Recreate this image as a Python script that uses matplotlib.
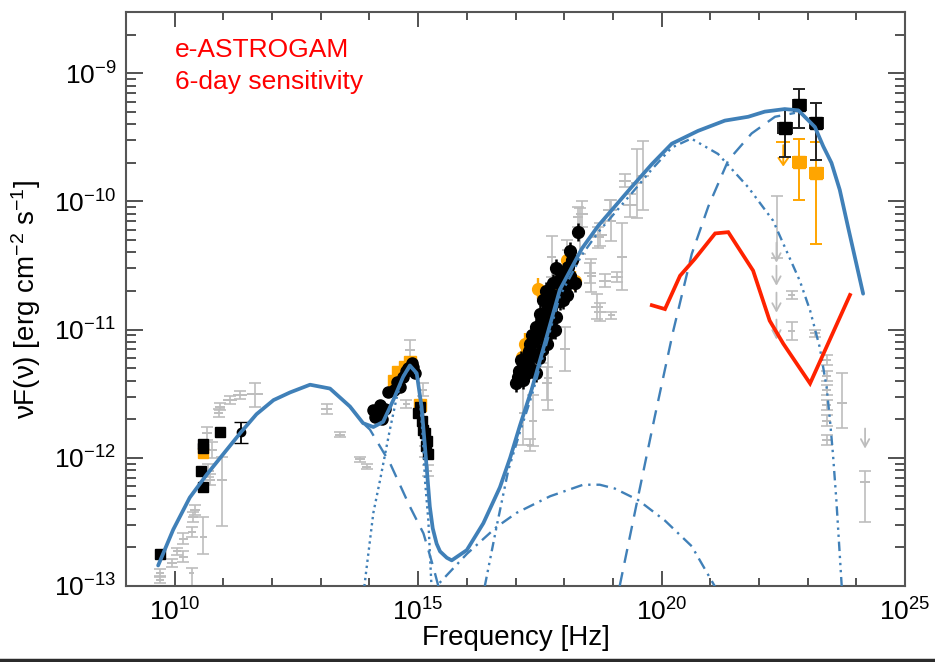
import numpy as np
import matplotlib
matplotlib.use("Agg")
import matplotlib.pyplot as plt
from matplotlib.ticker import FixedLocator, FixedFormatter, NullFormatter
from matplotlib.lines import Line2D

plt.rcParams['font.family'] = ['Liberation Sans', 'DejaVu Sans']
plt.rcParams['mathtext.default'] = 'regular'

# All values are log10(nu / Hz) and log10(nuFnu / erg cm^-2 s^-1)

# ---------------- model components ----------------
total_lnu = [9.66, 9.97, 10.31, 10.66, 11.00, 11.34, 11.68, 12.03, 12.37, 12.78, 13.19, 13.60, 13.87,
             14.08, 14.28, 14.49, 14.69, 14.83, 14.97, 15.07, 15.14, 15.24, 15.30, 15.38, 15.45,
             15.59, 15.69, 16.00, 16.34, 16.68, 16.89, 17.09, 17.33, 17.60, 17.91, 18.36, 18.70,
             19.04, 19.38, 19.80, 20.21, 20.75, 21.30, 21.78, 22.12, 22.53, 22.81, 23.15,
             23.32, 23.49, 23.66, 23.83, 24.14]
total_lf = [-12.84, -12.56, -12.31, -12.13, -11.97, -11.81, -11.66, -11.55, -11.49, -11.43, -11.46, -11.60, -11.73,
            -11.76, -11.72, -11.55, -11.37, -11.28, -11.34, -11.60, -11.91, -12.38, -12.55, -12.67, -12.73,
            -12.78, -12.80, -12.72, -12.51, -12.23, -12.00, -11.75, -11.47, -11.11, -10.69, -10.37, -10.19,
            -10.04, -9.89, -9.71, -9.55, -9.45, -9.37, -9.34, -9.30, -9.28, -9.29, -9.42,
            -9.57, -9.70, -9.91, -10.20, -10.72]

sync_lnu = [13.60, 13.87, 14.01, 14.42, 14.83, 15.11, 15.31, 15.45]
sync_lf = [-11.60, -11.73, -11.78, -12.04, -12.38, -12.59, -12.85, -13.05]

disk_lnu = [13.88, 14.08, 14.22, 14.42, 14.56, 14.69, 14.85, 15.00, 15.04, 15.10, 15.14, 15.21, 15.28]
disk_lf = [-13.05, -12.43, -12.17, -11.78, -11.53, -11.36, -11.29, -11.37, -11.56, -11.86, -12.17, -12.49, -13.05]

ssc_lnu = [15.30, 15.38, 16.00, 16.61, 17.02, 17.71, 18.39, 18.73, 19.04, 19.52, 20.07, 20.62, 21.09, 21.15]
ssc_lf = [-13.10, -13.00, -12.75, -12.54, -12.43, -12.30, -12.21, -12.21, -12.24, -12.33, -12.49, -12.69, -13.00, -13.05]

ecblr_lnu = [16.37, 16.61, 16.85, 17.09, 17.33, 17.60, 17.91, 18.36, 18.70, 19.04, 19.38, 19.80,
             20.21, 20.61, 21.16, 21.78, 22.29, 22.50, 22.84, 23.05, 23.25, 23.39, 23.46, 23.52,
             23.59, 23.70, 23.72]
ecblr_lf = [-13.00, -12.54, -12.10, -11.80, -11.52, -11.16, -10.74, -10.42, -10.24, -10.09, -9.94, -9.75,
            -9.58, -9.51, -9.63, -9.89, -10.15, -10.33, -10.62, -10.85, -11.14, -11.45, -11.71, -11.97,
            -12.33, -13.00, -13.10]

ecdt_lnu = [19.14, 19.52, 19.86, 20.24, 20.62, 20.96, 21.37, 21.85, 22.33, 22.74]
ecdt_lf = [-13.00, -12.30, -11.68, -11.01, -10.41, -10.04, -9.68, -9.47, -9.34, -9.31]

# ---------------- e-ASTROGAM 6-day sensitivity ----------------
sens_lnu = [19.80, 20.07, 20.38, 20.68, 21.10, 21.37, 21.88, 22.22, 22.50, 23.05, 23.87]
sens_lf = [-10.81, -10.84, -10.58, -10.45, -10.25, -10.24, -10.54, -10.93, -11.11, -11.42, -10.73]

# ---------------- archival data (grey) ----------------
arch_lnu = [11.65, 11.34, 11.14, 10.93, 10.90, 10.66, 10.76, 10.97, 10.69, 10.73, 10.42, 10.38,
            10.59, 10.35, 10.18, 10.18, 10.04, 9.94, 10.35, 9.70, 9.70,
            13.12, 13.39, 13.81, 13.94, 14.83, 15.10, 14.76, 15.20, 15.15,
            18.29, 17.74, 18.05, 18.53, 18.67, 18.02, 17.64, 17.36, 17.16, 17.67, 17.30, 17.55,
            18.36, 18.73, 18.94, 19.18, 19.35, 19.62, 19.49, 19.25, 18.97, 18.70, 18.56, 18.32,
            18.84, 19.08, 18.73, 18.97,
            22.37, 22.67, 22.67, 23.15, 23.39, 23.39, 23.39, 23.39, 23.39, 23.39, 23.70, 24.18]
arch_lf = [-11.50, -11.51, -11.55, -11.60, -11.65, -11.81, -11.94, -12.17, -12.10, -12.17, -12.41, -12.46,
           -12.62, -12.58, -12.63, -12.77, -12.73, -12.82, -12.90, -12.90, -12.95,
           -11.62, -11.82, -12.01, -12.07, -11.16, -11.47, -11.58, -12.10, -11.95,
           -10.12, -10.43, -10.38, -10.56, -10.82, -11.15, -11.42, -11.71, -11.65, -11.38, -11.90, -11.20,
           -10.10, -10.26, -10.07, -10.43, -10.03, -9.80, -9.86, -9.84, -10.15, -10.28, -10.58, -10.23,
           -10.62, -10.59, -10.86, -10.89,
           -10.19, -10.73, -11.01, -11.03, -11.24, -11.36, -11.47, -11.59, -11.71, -11.86, -11.57, -12.19]
arch_dlo = [0.10, 0.03, 0.03, 0.03, 0.03, 0.05, 0.06, 0.36, 0.05, 0.04, 0.04, 0.04,
            0.13, 0.04, 0.04, 0.04, 0.03, 0.03, 0.10, 0.03, 0.03,
            0.04, 0.02, 0.02, 0.02, 0.08, 0.05, 0.03, 0.04, 0.04,
            0.08, 0.16, 0.08, 0.08, 0.10, 0.17, 0.13, 0.20, 0.25, 0.25, 0.05, 0.06,
            0.10, 0.09, 0.08, 0.26, 0.09, 0.27, 0.27, 0.05, 0.16, 0.08, 0.13, 0.18,
            0.05, 0.04, 0.07, 0.03,
            0.25, 0.03, 0.07, 0.03, 0.04, 0.04, 0.04, 0.04, 0.04, 0.04, 0.20, 0.31]
arch_dhi = [0.08, 0.03, 0.03, 0.03, 0.03, 0.05, 0.06, 0.18, 0.05, 0.04, 0.04, 0.04,
            0.16, 0.04, 0.04, 0.04, 0.03, 0.03, 0.04, 0.03, 0.03,
            0.04, 0.02, 0.02, 0.02, 0.08, 0.05, 0.03, 0.04, 0.04,
            0.08, 0.16, 0.08, 0.08, 0.10, 0.17, 0.13, 0.20, 0.25, 0.25, 0.05, 0.06,
            0.10, 0.09, 0.08, 0.26, 0.09, 0.27, 0.27, 0.05, 0.16, 0.08, 0.13, 0.18,
            0.05, 0.04, 0.07, 0.03,
            0.23, 0.03, 0.07, 0.03, 0.04, 0.04, 0.04, 0.04, 0.04, 0.04, 0.23, 0.09]
arch_dnu = [0.16, 0.14, 0.14, 0.10, 0.10, 0.10, 0.10, 0.10, 0.12, 0.10, 0.10, 0.10,
            0.08, 0.08, 0.10, 0.10, 0.08, 0.10, 0.05, 0.08, 0.08,
            0.12, 0.10, 0.10, 0.10, 0.10, 0.08, 0.08, 0.08, 0.06,
            0.10, 0.10, 0.10, 0.12, 0.12, 0.10, 0.10, 0.08, 0.08, 0.08, 0.08, 0.08,
            0.12, 0.15, 0.15, 0.10, 0.15, 0.12, 0.12, 0.12, 0.10, 0.12, 0.10, 0.10,
            0.12, 0.12, 0.12, 0.08,
            0.00, 0.08, 0.08, 0.10, 0.10, 0.10, 0.10, 0.10, 0.10, 0.10, 0.10, 0.10]
arch_ul_lnu = [22.36, 22.36, 22.36, 22.36, 24.18]
arch_ul_lf = [-10.30, -10.48, -10.69, -10.90, -11.75]

# ---------------- contemporaneous data ----------------
radio_lnu = [9.70, 10.59, 10.59, 10.55, 10.59, 10.93]
radio_lf = [-12.75, -11.89, -11.92, -12.10, -12.23, -11.80]
radio_o_lnu = [10.59]
radio_o_lf = [-11.96]
mm_lnu = [11.36]
mm_lf = [-11.80]
mm_dlo = [0.086]
mm_dhi = [0.078]

opt_lnu = [14.08, 14.22, 14.18, 14.32, 14.39, 14.56, 14.63, 14.69, 14.76, 14.87, 14.93,
           14.12, 14.25, 14.50, 14.80, 14.90]
opt_lf = [-11.63, -11.59, -11.65, -11.62, -11.49, -11.41, -11.45, -11.37, -11.32, -11.26, -11.34,
          -11.68, -11.70, -11.47, -11.30, -11.29]
uv_lnu = [15.00, 15.07, 15.14, 15.17, 15.21, 15.04, 15.10, 15.19]
uv_lf = [-11.65, -11.71, -11.81, -11.91, -11.97, -11.60, -11.78, -11.87]
opt_o_lnu = [14.59, 14.83, 15.04, 14.73, 14.50]
opt_o_lf = [-11.33, -11.25, -11.59, -11.29, -11.40]

xray_lnu = [17.06, 17.16, 17.23, 17.30, 17.43, 17.50, 17.57, 17.64, 17.71, 17.77, 17.84, 17.95,
            18.02, 18.08, 18.12, 18.22, 18.29, 17.36, 17.43, 17.23, 17.71, 17.84, 17.98, 17.64,
            17.16, 17.25, 17.34, 17.50, 17.60, 17.75, 17.87, 17.95, 18.12, 18.06, 17.81, 17.54, 17.11,
            17.02, 17.08, 17.19, 17.28, 17.38, 17.46, 17.52, 17.58, 17.66, 17.69, 17.78, 17.88,
            17.92, 18.00, 18.16, 17.48, 17.30, 17.62]
xray_lf = [-11.37, -11.29, -11.21, -11.11, -10.98, -10.88, -10.77, -10.85, -10.72, -10.64, -10.52, -10.59,
           -10.67, -10.51, -10.39, -10.64, -10.24, -11.19, -11.34, -11.34, -11.03, -10.90, -10.77, -11.11,
           -11.39, -11.28, -11.04, -11.00, -10.93, -10.81, -10.73, -10.65, -10.58, -10.73, -11.00, -11.16, -11.24,
           -11.42, -11.32, -11.25, -11.17, -11.10, -11.05, -10.95, -10.90, -10.80, -10.93, -10.77, -10.62,
           -10.78, -10.55, -10.46, -11.22, -11.30, -10.70]
xray_o_lnu = [17.47, 17.19, 17.74, 18.22, 18.05, 17.13, 17.09, 17.30]
xray_o_lf = [-10.68, -11.11, -10.68, -10.62, -10.46, -11.21, -11.33, -11.08]

lat_lnu = [22.53, 22.83, 23.18]
lat_lf = [-9.43, -9.25, -9.39]
lat_dlo = [0.22, 0.18, 0.29]
lat_dhi = [0.14, 0.13, 0.16]
lat_o_lnu = [22.83, 23.18]
lat_o_lf = [-9.69, -9.78]
lat_o_dlo = [0.30, 0.55]
lat_o_dhi = [0.18, 0.24]
lat_o_ul_lnu = [22.50]
lat_o_ul_lf = [-9.54]
lat_dnu = 0.14

# ---------------- drawing ----------------
BLUE = '#4080B8'
GREY = '#BDBDBD'
ORANGE = '#FFA500'
RED = '#FF2200'


def p10(a):
    return 10.0 ** np.asarray(a, dtype=float)


def asym(lv, lo, hi):
    lv = np.asarray(lv, dtype=float)
    lo = np.broadcast_to(np.asarray(lo, dtype=float), lv.shape)
    hi = np.broadcast_to(np.asarray(hi, dtype=float), lv.shape)
    return np.vstack([10 ** lv - 10 ** (lv - lo), 10 ** (lv + hi) - 10 ** lv])


fig = plt.figure(figsize=(9.35, 6.62), dpi=100)
ax = fig.add_axes([126 / 935, 1 - 586 / 662, 779 / 935, 574 / 662])
ax.set_xscale('log')
ax.set_yscale('log')

# archival points: capped flux errors, uncapped frequency bins
ax.errorbar(p10(arch_lnu), p10(arch_lf), yerr=asym(arch_lf, arch_dlo, arch_dhi),
            fmt='none', ecolor=GREY, elinewidth=1.2, capsize=4, capthick=1.2, zorder=1)
ax.errorbar(p10(arch_lnu), p10(arch_lf), xerr=asym(arch_lnu, arch_dnu, arch_dnu),
            fmt='none', ecolor=GREY, elinewidth=1.4, capsize=0, zorder=1)
for xl, yl in zip(arch_ul_lnu, arch_ul_lf):
    ax.annotate('', xy=(10 ** xl, 10 ** (yl - 0.2)), xytext=(10 ** xl, 10 ** yl),
                arrowprops=dict(arrowstyle='->,head_length=0.55,head_width=0.3',
                                color=GREY, lw=1.3), zorder=1)

# radio / mm
ax.plot(p10(radio_o_lnu), p10(radio_o_lf), 's', color=ORANGE, ms=7, zorder=2)
ax.plot(p10(radio_lnu), p10(radio_lf), 's', color='black', ms=6.5, zorder=3)
ax.errorbar(p10(mm_lnu), p10(mm_lf), yerr=asym(mm_lf, mm_dlo, mm_dhi), fmt='o',
            color='black', ms=6, capsize=5, elinewidth=1.3, zorder=3)

# optical / UV
ax.plot(p10(opt_o_lnu), p10(opt_o_lf), 's', color=ORANGE, ms=8, zorder=2)
ax.plot(p10(opt_lnu), p10(opt_lf), 'o', color='black', ms=8, zorder=3)
ax.plot(p10(uv_lnu), p10(uv_lf), 's', color='black', ms=7, zorder=3)

# X-rays
ax.errorbar(p10(xray_o_lnu), p10(xray_o_lf), yerr=asym(xray_o_lf, 0.08, 0.08), fmt='o',
            color=ORANGE, ms=8.5, elinewidth=1.7, capsize=0, zorder=2)
ax.errorbar(p10(xray_lnu), p10(xray_lf), yerr=asym(xray_lf, 0.07, 0.07), fmt='o',
            color='black', ms=8.5, elinewidth=1.8, capsize=0, zorder=3)

# gamma rays
ax.errorbar(p10(lat_o_lnu), p10(lat_o_lf), xerr=asym(lat_o_lnu, lat_dnu, lat_dnu),
            yerr=asym(lat_o_lf, lat_o_dlo, lat_o_dhi), fmt='s', color=ORANGE, ms=8,
            elinewidth=1.4, capsize=4.5, capthick=1.4, zorder=2)
ax.errorbar(p10(lat_o_ul_lnu), p10(lat_o_ul_lf), xerr=asym(lat_o_ul_lnu, lat_dnu, lat_dnu),
            fmt='none', ecolor=ORANGE, elinewidth=1.4, zorder=2)
for xl, yl in zip(lat_o_ul_lnu, lat_o_ul_lf):
    ax.annotate('', xy=(10 ** xl, 10 ** (yl - 0.21)), xytext=(10 ** xl, 10 ** yl),
                arrowprops=dict(arrowstyle='->,head_length=0.5,head_width=0.35',
                                color=ORANGE, lw=1.4), zorder=2)
ax.errorbar(p10(lat_lnu), p10(lat_lf), xerr=asym(lat_lnu, lat_dnu, lat_dnu),
            yerr=asym(lat_lf, lat_dlo, lat_dhi), fmt='s', color='black', ecolor='#222222',
            ms=8, elinewidth=1.4, capsize=4.5, capthick=1.4, zorder=3)

# model components
ax.plot(p10(sync_lnu), p10(sync_lf), color=BLUE, lw=1.7, dashes=(6, 4), zorder=5)
ax.plot(p10(disk_lnu), p10(disk_lf), color=BLUE, lw=1.7, dashes=(1, 1.6), zorder=5)
ax.plot(p10(ssc_lnu), p10(ssc_lf), color=BLUE, lw=1.7, dashes=(5, 2.5, 1, 2.5), zorder=5)
ax.plot(p10(ecblr_lnu), p10(ecblr_lf), color=BLUE, lw=1.7,
        dashes=(4, 2, 1, 2, 1, 2, 1, 2), zorder=5)
ax.plot(p10(ecdt_lnu), p10(ecdt_lf), color=BLUE, lw=1.7, dashes=(6, 4), zorder=5)
ax.plot(p10(total_lnu), p10(total_lf), color=BLUE, lw=2.7, zorder=6,
        solid_capstyle='round', solid_joinstyle='round')

# sensitivity curve
ax.plot(p10(sens_lnu), p10(sens_lf), color=RED, lw=2.7, zorder=7,
        solid_joinstyle='miter')

ax.text(0.063, 0.9216, 'e-ASTROGAM', transform=ax.transAxes, color='#FF0000',
        fontsize=19, va='baseline', ha='left')
ax.text(0.063, 0.8659, '6-day sensitivity', transform=ax.transAxes, color='#FF0000',
        fontsize=19, va='baseline', ha='left')

# axes
ax.set_xlim(1e9, 1e25)
ax.set_ylim(1e-13, 3e-9)

ax.xaxis.set_major_locator(FixedLocator([1e10, 1e15, 1e20, 1e25]))
ax.xaxis.set_major_formatter(FixedFormatter([r'$10^{10}$', r'$10^{15}$', r'$10^{20}$', r'$10^{25}$']))
ax.xaxis.set_minor_locator(FixedLocator([10.0 ** k for k in range(9, 26) if k % 5 != 0]))
ax.xaxis.set_minor_formatter(NullFormatter())

ax.yaxis.set_major_locator(FixedLocator([1e-13, 1e-12, 1e-11, 1e-10, 1e-9]))
ax.yaxis.set_major_formatter(FixedFormatter([r'$10^{-13}$', r'$10^{-12}$', r'$10^{-11}$',
                                             r'$10^{-10}$', r'$10^{-9}$']))
ax.yaxis.set_minor_locator(FixedLocator([m * 10.0 ** k for k in range(-13, -8) for m in range(2, 10)]))
ax.yaxis.set_minor_formatter(NullFormatter())

ax.tick_params(which='both', direction='in', top=True, right=True, color='#444444', width=1.3)
ax.tick_params(axis='x', which='major', length=11, pad=9, labelsize=19)
ax.tick_params(axis='x', which='minor', length=6)
ax.tick_params(axis='y', which='major', length=12, pad=7, labelsize=19)
ax.tick_params(axis='y', which='minor', length=7)
for s in ax.spines.values():
    s.set_color('#555555')
    s.set_linewidth(1.5)

ax.set_xlabel('Frequency [Hz]', fontsize=20)
ax.set_ylabel(r'νF(ν) [erg cm$^{-2}$ s$^{-1}$]', fontsize=20)
ax.xaxis.set_label_coords(0.5, -0.068)
ax.yaxis.set_label_coords(-0.1065, 0.5)

fig.add_artist(Line2D([0, 1], [0.003, 0.003], transform=fig.transFigure, color='#2b2b2b', lw=2.5))

fig.savefig('out.png', dpi=100)
